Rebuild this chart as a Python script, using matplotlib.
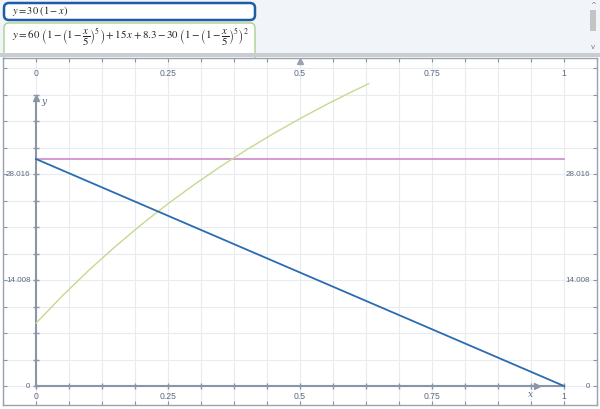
import matplotlib
matplotlib.use("Agg")
import matplotlib.pyplot as plt
import matplotlib.transforms as mtransforms
from matplotlib.patches import FancyBboxPatch, Rectangle
import numpy as np

plt.rcParams['mathtext.fontset'] = 'stix'

# y = 30 (1 - x)
line_x = [0, 1]
line_y = [30, 0]
# horizontal cap at 30
cap_x = [0, 1]
cap_y = [30, 30]
# green curve
curve_x = [0, 0.05, 0.1, 0.15, 0.2, 0.25, 0.3, 0.35, 0.4, 0.45, 0.5, 0.55, 0.6, 0.63]
curve_y = [8.3, 11.92, 15.29, 18.43, 21.36, 24.09, 26.64, 29.03, 31.27, 33.37, 35.34, 37.2, 38.95, 39.95]

x_labels = [0, 0.25, 0.5, 0.75, 1]
y_labels = [0, 14.008, 28.016]
x_step = 0.0625
y_step = 3.502

axis_col = '#8a95a5'
text_col = '#5a6a80'
lab_font = ['Liberation Sans Narrow', 'Liberation Sans', 'DejaVu Sans']

fig = plt.figure(figsize=(6, 4.09), dpi=100)

# top input panel, drawn in pixel coords
bg = fig.add_axes([0, 0, 1, 1])
bg.set_xlim(0, 600)
bg.set_ylim(409, 0)
bg.axis('off')
bg.add_patch(Rectangle((0, 0), 600, 53, color='#f1f5f9', lw=0))

box2 = FancyBboxPatch((4, 23), 251, 40, boxstyle='round,pad=0,rounding_size=5',
                      fc='white', ec='#a9d18e', lw=1.0)
bg.add_patch(box2)
bg.add_patch(Rectangle((0, 53), 600, 4, color='#c9cdd2', lw=0, zorder=3))
box1 = FancyBboxPatch((4, 3), 251, 17, boxstyle='round,pad=0,rounding_size=5',
                      fc='white', ec='#1e5ca8', lw=1.8)
bg.add_patch(box1)
bg.text(12, 11.5, r'$y = 30\ (1 - x)$', fontsize=7.5, va='center', color='#222222')
bg.text(12, 37.5, r'$y = 60\ \left(1 - \left(1 - \dfrac{x}{5}\right)^5\right) + 15\,x + 8.3 - 30\ \left(1 - \left(1 - \dfrac{x}{5}\right)^5\right)^2$',
        fontsize=7.8, va='center', color='#222222')

# scrollbar
bg.add_patch(Rectangle((590, 10), 6, 21, color='#c4c4c4', lw=0))
bg.text(593, 5, '^', fontsize=5, ha='center', va='center', color='#777777')
bg.text(593, 47, 'v', fontsize=5, ha='center', va='center', color='#777777')

# plot area
ax = fig.add_axes([3 / 600, 4 / 409, 594 / 600, 347 / 409])
ax.set_zorder(2)
ax.set_facecolor('white')
ax.set_xlim(-0.0625, 1.0625)
ax.set_ylim(-2.51, 43.35)

gx = np.arange(-1, 18) * x_step
gy = np.arange(0, 13) * y_step
for v in gx:
    ax.axvline(v, color='#e8ebef', lw=0.8, zorder=0)
for v in gy:
    ax.axhline(v, color='#e8ebef', lw=0.8, zorder=0)

ax.set_xticks(gx)
ax.set_yticks(gy)
ax.tick_params(direction='in', length=3, width=0.8, color=axis_col,
               top=True, bottom=True, left=True, right=True,
               labelbottom=False, labelleft=False)
for s in ax.spines.values():
    s.set_color('#9aa3ad')
    s.set_linewidth(1.0)

# axes through the origin
ax.plot([0, 0], [0, 38.0], color=axis_col, lw=1.5, zorder=2)
ax.plot([0], [38.0], marker='^', color=axis_col, ms=4, zorder=2)
ax.plot([0, 1], [0, 0], color=axis_col, lw=1.5, zorder=2)
ax.plot([0.949], [0], marker='>', color=axis_col, ms=4, zorder=2)
inner_x = gx[(gx >= 0) & (gx <= 1)]
ax.plot(inner_x, np.zeros_like(inner_x), ls='none', marker='|', ms=4, color=axis_col, zorder=2)
ax.plot(np.zeros_like(gy[:12]), gy[:12], ls='none', marker='_', ms=4, color=axis_col, zorder=2)
ax.text(0.01, 37.3, 'y', fontsize=6.5, style='italic', color=text_col, family='serif')
ax.text(0.937, -1.4, 'x', fontsize=6.5, style='italic', color=text_col, family='serif', ha='center')

bt = mtransforms.blended_transform_factory(ax.transData, ax.transAxes)
for v in x_labels:
    ax.text(v, 0.955, f'{v:g}', transform=bt, fontsize=6.2, ha='center', va='center',
            color=text_col, family=lab_font)
    ax.text(v, 0.025, f'{v:g}', transform=bt, fontsize=6.2, ha='center', va='center',
            color=text_col, family=lab_font)

lt = mtransforms.blended_transform_factory(ax.transAxes, ax.transData)
for v in y_labels:
    lab = f'{v:g}'
    ax.text(0.0465, v, lab, transform=lt, fontsize=5.8, ha='right', va='center',
            color=text_col, family=lab_font)
    ax.text(0.988, v, lab, transform=lt, fontsize=5.8, ha='right', va='center',
            color=text_col, family=lab_font)

# data
ax.plot(cap_x, cap_y, color='#cc88cc', lw=1.2, zorder=3)
ax.plot(curve_x, curve_y, color='#c5d98f', lw=1.0, zorder=3)
ax.plot(line_x, line_y, color='#2b6cb0', lw=1.3, zorder=4)

# small handle at top center
ax.plot([0.5], [42.9], marker='^', color='#9aa3ad', ms=4, clip_on=False, zorder=5)

fig.savefig('out.png', dpi=100)
